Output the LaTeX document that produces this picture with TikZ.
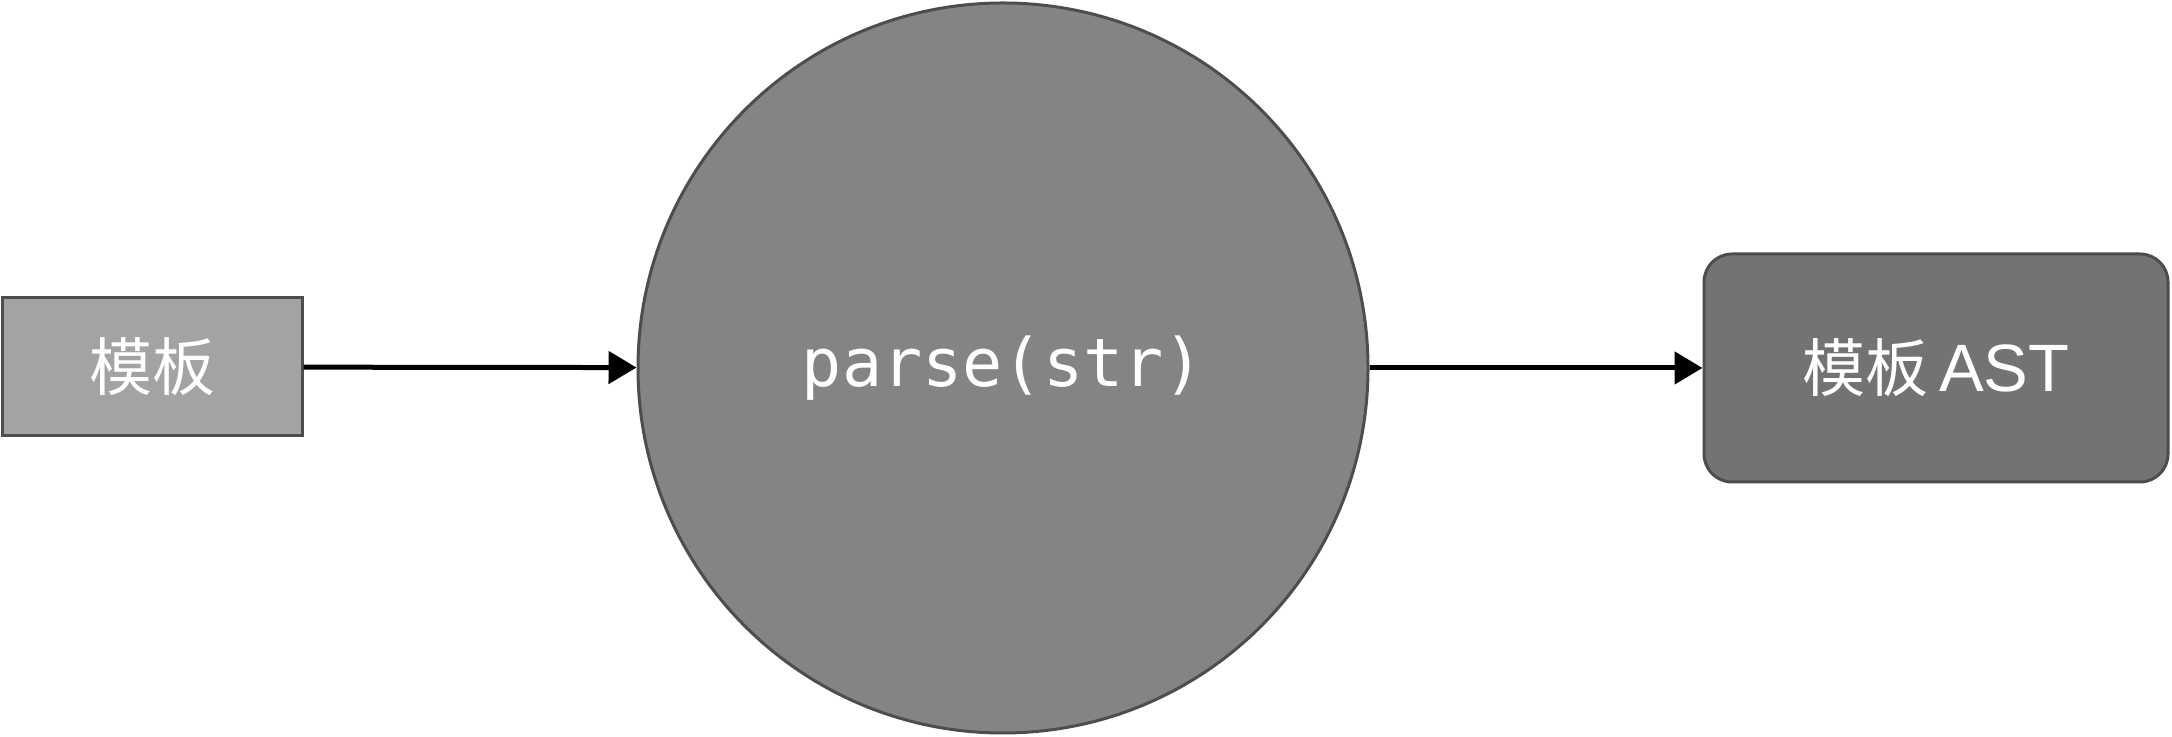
\documentclass[tikz,border=0pt]{standalone}
\usepackage{fontspec}
\setmainfont{Liberation Sans}
\setmonofont{DejaVu Sans Mono}
\newfontfamily\cjkfont{Noto Sans CJK SC}
\usetikzlibrary{arrows.meta}
\definecolor{edgegray}{HTML}{4D4D4D}
\definecolor{lightfill}{HTML}{A3A3A3}
\definecolor{midfill}{HTML}{848484}
\definecolor{darkfill}{HTML}{737373}
\begin{document}
\begin{tikzpicture}[x=0.5pt, y=0.5pt,
    box/.style={draw=edgegray, line width=1.5pt, text=white, inner sep=0pt},
    flow/.style={line width=2.5pt, -{Triangle[length=14pt, width=16pt]}}]
    \useasboundingbox (0,0) rectangle (2172,737);
    \node[box, fill=lightfill, minimum width=150pt, minimum height=69pt]
        (tmpl) at (152,370) {\fontsize{31.5}{36}\selectfont\cjkfont 模板};
    \node[box, circle, fill=midfill, minimum size=365pt]
        (parse) at (1003,369) {\raisebox{-4pt}{\fontsize{33.4}{40}\selectfont\ttfamily parse(str)}};
    \node[box, fill=darkfill, rounded corners=14pt, minimum width=232pt, minimum height=114pt]
        (ast) at (1936,369) {\fontsize{31.5}{36}\selectfont{\cjkfont 模板}\,\fontsize{33.5}{36}\selectfont AST};
    \draw[flow] (tmpl) -- (parse);
    \draw[flow] (parse) -- (ast);
\end{tikzpicture}
\end{document}
